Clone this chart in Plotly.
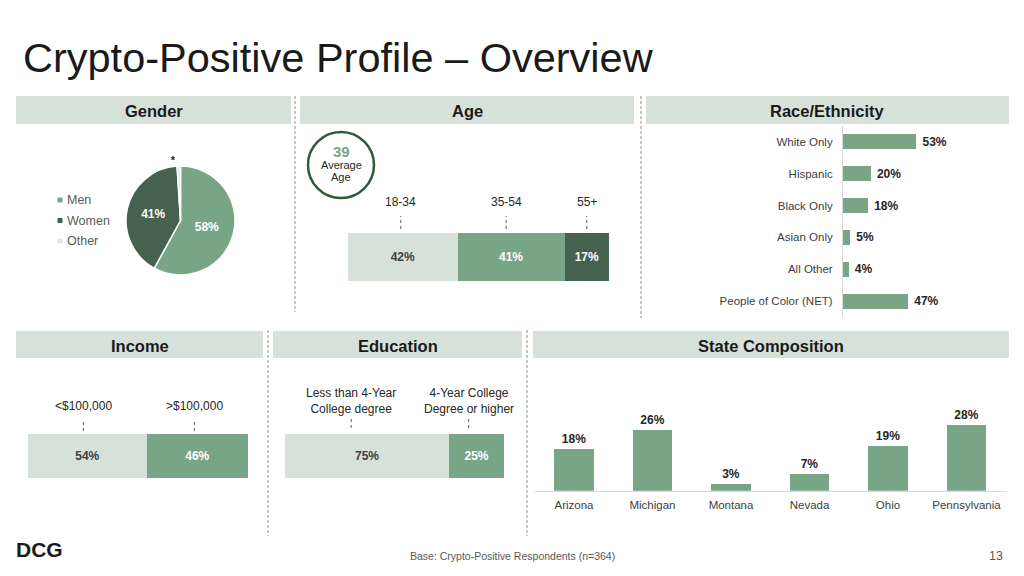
import plotly.graph_objects as go

W, H = 1024, 576
def PX(x): return x / W
def PY(y): return 1 - y / H

FONT = "Liberation Sans, Arial, sans-serif"
LIGHT = "#d6e1d9"
MID = "#79a587"
DARK = "#45624f"
OTHER = "#dfe7e1"
HEADER = "#d6e1d9"
TXT = "#404040"

# ---------------- data ----------------
gender_labels = ["Men", "Women", "Other"]
gender_values = [58, 41, 1]

age_groups = ["18-34", "35-54", "55+"]
age_values = [42, 41, 17]
average_age = 39

race_labels = ["White Only", "Hispanic", "Black Only", "Asian Only", "All Other", "People of Color (NET)"]
race_values = [53, 20, 18, 5, 4, 47]

income_labels = ["<$100,000", ">$100,000"]
income_values = [54, 46]

edu_labels = ["Less than 4-Year<br>College degree", "4-Year College<br>Degree or higher"]
edu_values = [75, 25]

states = ["Arizona", "Michigan", "Montana", "Nevada", "Ohio", "Pennsylvania"]
state_values = [18, 26, 3, 7, 19, 28]

fig = go.Figure()
shapes = []
annos = []

def text(x, y, s, size=12, color="#1a1a1a", bold=False, xanchor="center", yanchor="middle", xref="paper", yref="paper", xshift=0):
    annos.append(dict(x=x, y=y, xref=xref, yref=yref, text=(f"<b>{s}</b>" if bold else s),
                      showarrow=False, xanchor=xanchor, yanchor=yanchor, xshift=xshift,
                      font=dict(family=FONT, size=size, color=color)))

# ---------------- title ----------------
text(PX(21), PY(58), "Crypto-Positive Profile – Overview", size=41.5, color="#1a1a1a", xanchor="left")

# ---------------- headers ----------------
headers = [("Gender", 16, 291, 96, 124), ("Age", 300, 634, 96, 124), ("Race/Ethnicity", 646, 1009, 96, 124),
           ("Income", 16, 263, 331, 358), ("Education", 273, 522, 331, 358), ("State Composition", 533, 1009, 331, 358)]
for name, x0, x1, y0, y1 in headers:
    shapes.append(dict(type="rect", xref="paper", yref="paper", x0=PX(x0), x1=PX(x1), y0=PY(y1), y1=PY(y0),
                       fillcolor=HEADER, line=dict(width=0), layer="below"))
    text(PX((x0 + x1) / 2), PY((y0 + y1) / 2 + 1), name, size=16.5, bold=True)

# separators
for x, y0, y1 in [(295, 96, 312), (641, 96, 318), (268, 330, 536), (527, 330, 536)]:
    shapes.append(dict(type="line", xref="paper", yref="paper", x0=PX(x), x1=PX(x), y0=PY(y0), y1=PY(y1),
                       line=dict(color="#8c8c8c", width=1, dash="3px,2px")))

# ---------------- gender pie ----------------
fig.add_trace(go.Pie(
    labels=gender_labels, values=gender_values, sort=False, direction="clockwise", rotation=0,
    domain=dict(x=[PX(126), PX(235)], y=[PY(275), PY(166)]),
    marker=dict(colors=[MID, DARK, OTHER], line=dict(color="white", width=1.5)),
    texttemplate=["<b>%{value}%</b>", "<b>%{value}%</b>", "<b>*</b>"],
    textposition=["inside", "inside", "outside"],
    insidetextfont=dict(family=FONT, size=12, color="white"),
    outsidetextfont=dict(family=FONT, size=11, color="#262626"),
    showlegend=False, hoverinfo="skip"))
# legend drawn as text with colour keys
for i, (lab, col) in enumerate(zip(gender_labels, [MID, DARK, OTHER])):
    yc = 200 + i * 20.5
    shapes.append(dict(type="rect", xref="paper", yref="paper", x0=PX(57.5), x1=PX(62.5), y0=PY(yc + 2.5), y1=PY(yc - 2.5),
                       fillcolor=col, line=dict(width=0)))
    text(PX(65), PY(yc), lab, size=12.5, color="#595959", xanchor="left")

# ---------------- stacked bars ----------------
def stacked(vals, colors, textcolors, ax):
    for v, c, tc in zip(vals, colors, textcolors):
        fig.add_trace(go.Bar(x=[v], y=[0], orientation="h", width=1, marker=dict(color=c, line=dict(width=0)),
                             text=[f"<b>{v}%</b>"], textposition="inside", insidetextanchor="middle",
                             textfont=dict(family=FONT, size=12, color=tc), constraintext="none",
                             xaxis="x" + ax, yaxis="y" + ax, showlegend=False, hoverinfo="skip"))

stacked(age_values, [LIGHT, MID, DARK], ["#404040", "white", "white"], "")
stacked(income_values, [LIGHT, MID], ["#404040", "white"], "2")
stacked(edu_values, [LIGHT, MID], ["#404040", "white"], "3")

def label_row(vals, labels, ax, dom, label_y, tick_y0, tick_y1, shifts):
    x0, x1 = dom
    cum = 0
    for v, lab, sh in zip(vals, labels, shifts):
        mid = cum + v / 2
        text(mid, PY(label_y), lab, size=12, color="#262626", xref="x" + ax, xshift=sh)
        px = x0 + (x1 - x0) * mid / 100 + sh
        shapes.append(dict(type="line", xref="paper", yref="paper", x0=PX(px), x1=PX(px), y0=PY(tick_y1), y1=PY(tick_y0),
                           line=dict(color="#595959", width=1, dash="3px,3px")))
        cum += v

AGE_DOM = (348, 609)
INC_DOM = (28, 248)
EDU_DOM = (285, 504)
label_row(age_values, age_groups, "", AGE_DOM, 202, 216, 229, [-2, -5, 0])
label_row(income_values, income_labels, "2", INC_DOM, 406, 419, 431, [-4, -3])
label_row(edu_values, edu_labels, "3", EDU_DOM, 401, 416, 428, [-16, -8])

# average age circle
shapes.append(dict(type="circle", xref="paper", yref="paper", x0=PX(308), x1=PX(374), y0=PY(198), y1=PY(132),
                   line=dict(color="#2f5a3c", width=2.5)))
text(PX(341), PY(152), str(average_age), size=15, color=MID, bold=True)
text(PX(341), PY(165), "Average", size=11, color="#262626")
text(PX(341), PY(176.5), "Age", size=11, color="#262626")

# ---------------- race ----------------
fig.add_trace(go.Bar(x=race_values, y=race_labels, orientation="h", width=0.47,
                     marker=dict(color=MID, line=dict(width=0)),
                     texttemplate="&nbsp;<b>%{x}%</b>", textposition="outside", cliponaxis=False,
                     textfont=dict(family=FONT, size=12, color="#262626"),
                     xaxis="x4", yaxis="y4", showlegend=False, hoverinfo="skip"))

# ---------------- state ----------------
fig.add_trace(go.Bar(x=states, y=state_values, width=0.5,
                     marker=dict(color=MID, line=dict(width=0)),
                     texttemplate="<b>%{y}%</b>", textposition="outside", cliponaxis=False,
                     textfont=dict(family=FONT, size=12, color="#262626"),
                     xaxis="x5", yaxis="y5", showlegend=False, hoverinfo="skip"))

# ---------------- footer ----------------
text(PX(14), PY(549), "DCG", size=21, color="#1a1a1a", bold=True, xanchor="left")
text(PX(512), PY(556), "Base: Crypto-Positive Respondents (n=364)", size=10.5, color="#595959")
text(PX(996), PY(556), "13", size=12.5, color="#595959")

hid = dict(visible=False, fixedrange=True)
fig.update_layout(
    width=W, height=H, margin=dict(l=0, r=0, t=0, b=0),
    paper_bgcolor="white", plot_bgcolor="rgba(0,0,0,0)",
    barmode="stack", showlegend=False,
    font=dict(family=FONT, color=TXT),
    xaxis=dict(domain=[PX(AGE_DOM[0]), PX(AGE_DOM[1])], range=[0, 100], anchor="y", **hid),
    yaxis=dict(domain=[PY(281), PY(233)], range=[-0.5, 0.5], anchor="x", **hid),
    xaxis2=dict(domain=[PX(INC_DOM[0]), PX(INC_DOM[1])], range=[0, 100], anchor="y2", **hid),
    yaxis2=dict(domain=[PY(478), PY(434)], range=[-0.5, 0.5], anchor="x2", **hid),
    xaxis3=dict(domain=[PX(EDU_DOM[0]), PX(EDU_DOM[1])], range=[0, 100], anchor="y3", **hid),
    yaxis3=dict(domain=[PY(478), PY(434)], range=[-0.5, 0.5], anchor="x3", **hid),
    xaxis4=dict(domain=[PX(843), PX(843 + 96.6)], range=[0, 70], anchor="y4", **hid),
    yaxis4=dict(domain=[PY(317), PY(126)], anchor="x4", autorange="reversed", showline=True,
                linecolor="#d9d9d9", linewidth=1, ticks="", showgrid=False, zeroline=False,
                tickfont=dict(family=FONT, size=11.5, color=TXT), ticklabelstandoff=7, fixedrange=True),
    xaxis5=dict(domain=[PX(534.75), PX(1005.75)], anchor="y5", showline=True, linecolor="#d9d9d9",
                linewidth=1, ticks="", showgrid=False, zeroline=False, ticklabelstandoff=3,
                tickfont=dict(family=FONT, size=11.5, color=TXT), fixedrange=True),
    yaxis5=dict(domain=[PY(490.7), PY(490.7 - 93.4)], range=[0, 40], anchor="x5", **hid),
    shapes=shapes, annotations=annos,
)

fig.write_html("out.html", config={"displayModeBar": False})
